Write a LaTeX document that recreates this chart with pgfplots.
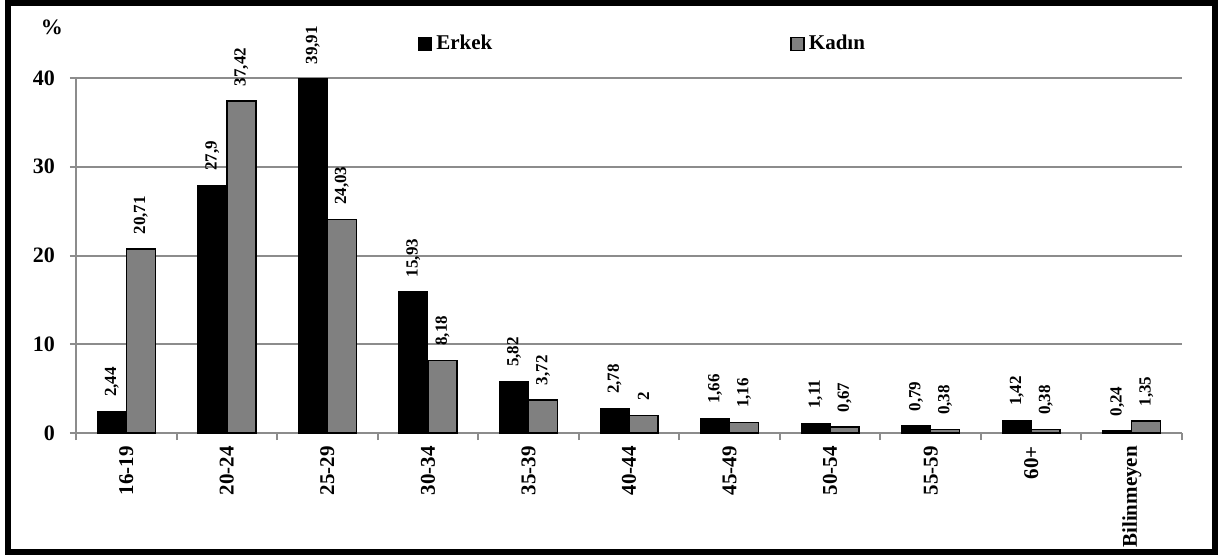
\documentclass[border=0pt]{standalone}
\usepackage{fontspec}
\setmainfont{Liberation Serif}
\usepackage{pgfplots}
\pgfplotsset{compat=1.18}
\usepackage{pgfplotstable}
\definecolor{barGray}{RGB}{128,128,128}
\definecolor{lineGray}{RGB}{140,140,140}

\pgfplotstableread{
x  y      lab
0  2.44   2,44
1  27.9   27,9
2  39.91  39,91
3  15.93  15,93
4  5.82   5,82
5  2.78   2,78
6  1.66   1,66
7  1.11   1,11
8  0.79   0,79
9  1.42   1,42
10 0.24   0,24
}\erkek
\pgfplotstableread{
x  y      lab
0  20.71  20,71
1  37.42  37,42
2  24.03  24,03
3  8.18   8,18
4  3.72   3,72
5  2      2
6  1.16   1,16
7  0.67   0,67
8  0.38   0,38
9  0.38   0,38
10 1.35   1,35
}\kadin

\begin{document}
\begin{tikzpicture}
\path[use as bounding box] (-38pt,-61.5pt) rectangle (571pt,216.5pt);
\begin{axis}[
    at={(0,0)}, anchor=south west,
    scale only axis,
    width=553pt, height=177.5pt,
    ybar=0pt, bar width=14.5pt,
    xmin=-0.5, xmax=10.5,
    ymin=0, ymax=40,
    ytick={0,10,20,30,40},
    xtick={0,...,10},
    xticklabels={16-19,20-24,25-29,30-34,35-39,40-44,45-49,50-54,55-59,60+,Bilinmeyen},
    minor xtick={-0.5,0.5,...,10.5},
    major x tick style={draw=none},
    tick align=outside,
    major tick length=3pt, minor tick length=3.5pt,
    tick style={lineGray, line width=1pt},
    axis x line*=bottom, axis y line*=left,
    axis line style={lineGray, line width=1pt, -},
    ymajorgrids, grid style={lineGray, line width=1pt},
    /pgf/number format/assume math mode=true,
    yticklabel style={font=\bfseries\fontsize{11}{13}\selectfont, xshift=-4pt},
    xticklabel style={font=\bfseries\fontsize{10.5}{12}\selectfont, rotate=90, anchor=east},
    clip=false,
    point meta=explicit symbolic,
    nodes near coords,
    every node near coord/.append style={font=\bfseries\fontsize{8.5}{10}\selectfont, rotate=90, anchor=west, inner sep=0pt, xshift=7pt},
    legend columns=2,
    legend style={draw=none, fill=none, at={(168pt,194.5pt)}, anchor=west,
        font=\bfseries\fontsize{10.5}{12}\selectfont,
        /tikz/every even column/.append style={column sep=147pt}},
    legend image code/.code={\draw[#1] (0pt,-3.25pt) rectangle (6.5pt,3.25pt);},
]
\addplot[fill=black, draw=black, line width=0.5pt] table[x=x, y=y, meta=lab] {\erkek};
\addplot[fill=barGray, draw=black, line width=0.75pt] table[x=x, y=y, meta=lab] {\kadin};
\legend{Erkek, Kadın}
\end{axis}
\node[font=\bfseries\fontsize{11}{13}\selectfont] at (-12pt,203pt) {\%};
\draw[line width=3pt] (-34pt,-59.5pt) rectangle (569.5pt,215pt);
\end{tikzpicture}
\end{document}
